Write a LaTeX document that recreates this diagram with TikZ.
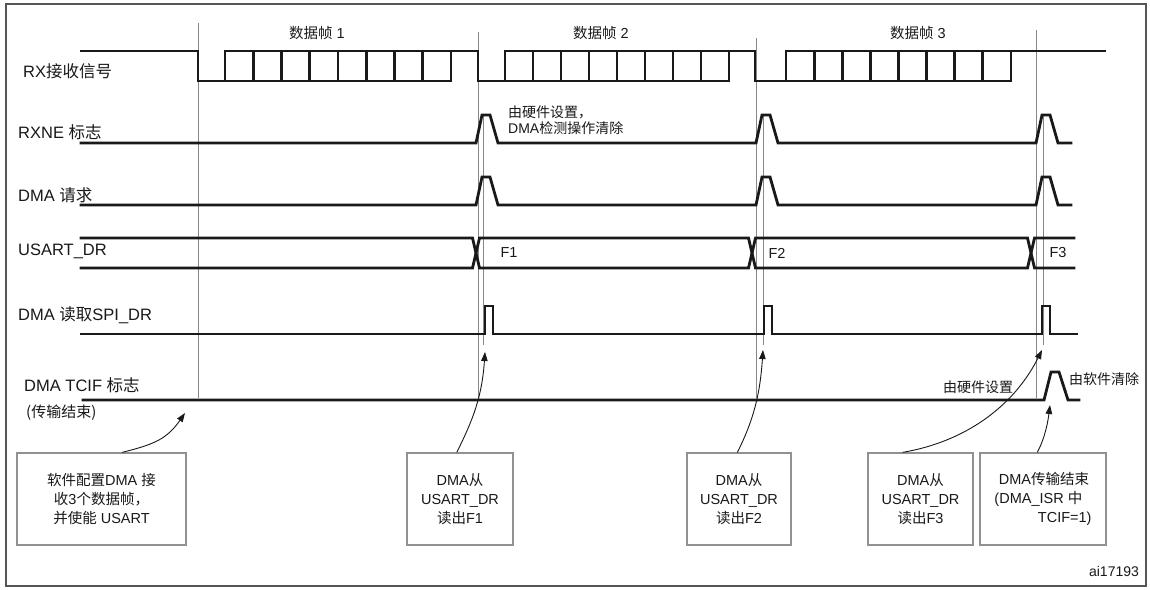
\documentclass[tikz,border=0pt]{standalone}
\usepackage{fontspec}
\setmainfont{Liberation Sans}
\newfontfamily\cjk{Noto Sans CJK SC}
\usetikzlibrary{arrows.meta}
\definecolor{ink}{RGB}{25,25,25}
\definecolor{guide}{RGB}{135,135,135}
\definecolor{boxline}{RGB}{145,145,145}
\definecolor{rim}{RGB}{85,85,85}

\begin{document}
\begin{tikzpicture}[x=1pt,y=-1pt,
  sig/.style={ink,line width=2.8pt,line cap=rect},
  guideline/.style={guide,line width=.8pt},
  lbl/.style={anchor=west,inner sep=0pt,font=\fontsize{16.5}{19}\selectfont,text=ink},
  note/.style={inner sep=0pt,font=\fontsize{14}{16}\selectfont,text=ink},
  callout/.style={draw=boxline,line width=1.3pt,minimum height=92pt,inner sep=2pt,align=center,font=\fontsize{14.5}{19}\selectfont,text=ink},
  pointer/.style={ink,line width=.9pt,-{Triangle[length=9pt,width=6.5pt]}}]
\useasboundingbox (0,0) rectangle (1150,589);
\fill[white] (0,0) rectangle (1150,589);
\draw[rim,line width=2pt] (6,4) rectangle (1146,586);
\draw[guideline] (198,23) -- (198,398); \draw[guideline] (478,32) -- (478,398);
\draw[guideline] (756,38) -- (756,398); \draw[guideline] (1036,30) -- (1036,398);
\foreach \gx in {483,763,1043} \draw[guideline] (\gx,115) -- (\gx,345);
\node[note,font=\fontsize{14.5}{16}\selectfont] (fr1) at (317,33) {{\cjk 数据帧} 1};
\node[note,font=\fontsize{14.5}{16}\selectfont] (fr2) at (601,33) {{\cjk 数据帧} 2};
\node[note,font=\fontsize{14.5}{16}\selectfont] (fr3) at (918,33) {{\cjk 数据帧} 3};
\node[lbl] (rx) at (23,71) {RX{\cjk 接收信号}};
\node[lbl] (rxne) at (18,132) {RXNE {\cjk 标志}};
\node[lbl] (req) at (18,195) {DMA {\cjk 请求}};
\node[lbl] (dr) at (18,251) {USART\_DR};
\node[lbl] (rd) at (18,315) {DMA {\cjk 读取}SPI\_DR};
\node[lbl] (tc) at (24,385) {DMA TCIF {\cjk 标志}};
\node[lbl,font=\fontsize{15}{18}\selectfont] (tcsub) at (26,413) {{\cjk (传输结束)}};
\draw[sig] (81,51) -- (198,51) -- (198,81) -- (451,81);
\draw[sig] (225,51) -- (478,51) -- (478,81) -- (729,81);
\draw[sig] (505,51) -- (755,51) -- (755,81) -- (1011,81);
\draw[sig] (786,51) -- (1105,51);
\foreach \a/\b in {225/451,505/729,786/1011}
  \foreach \i in {0,...,8} \draw[sig] ({\a+\i*(\b-\a)/8},51) -- ++(0,30);
\foreach \y in {143,205}
  \draw[sig] (81,\y) -- (476,\y) -- ++(6,-28) -- ++(8,0) -- ++(8,28) -- (756,\y) -- ++(6,-28) -- ++(8,0) -- ++(8,28)
    -- (1036,\y) -- ++(6,-28) -- ++(8,0) -- ++(8,28) -- (1071,\y);
\draw[sig] (81,238) -- (472.5,238) -- (479.5,268) -- (748.5,268) -- (755.5,238) -- (1027.5,238) -- (1034.5,268) -- (1074,268);
\draw[sig] (81,268) -- (472.5,268) -- (479.5,238) -- (748.5,238) -- (755.5,268) -- (1027.5,268) -- (1034.5,238) -- (1074,238);
\draw[sig] (81,334) -- (485,334) -- ++(0,-28) -- ++(8,0) -- ++(0,28) -- (764,334) -- ++(0,-28) -- ++(8,0) -- ++(0,28)
  -- (1042,334) -- ++(0,-28) -- ++(8,0) -- ++(0,28) -- (1077,334);
\draw[sig] (83,400) -- (1044,400) -- ++(7,-28) -- ++(8,0) -- ++(9,28) -- (1079,400);
\node[note,font=\fontsize{14.5}{16}\selectfont] (f1) at (509,253) {F1};
\node[note,font=\fontsize{14.5}{16}\selectfont] (f2) at (777,253) {F2};
\node[note,font=\fontsize{14.5}{16}\selectfont] (f3) at (1058,253) {F3};
\node[note,anchor=west,align=left] (hwclr) at (508,120) {{\cjk 由硬件设置，}\\DMA{\cjk 检测操作清除}};
\node[note] (hwset) at (978,387) {{\cjk 由硬件设置}};
\node[note] (swclr) at (1104,379) {{\cjk 由软件清除}};
\node[note,font=\fontsize{14}{16}\selectfont] (fig) at (1114,571) {ai17193};
\node[callout,minimum width=169pt] (cfg) at (101.5,499) {{\cjk 软件配置}DMA {\cjk 接}\\{\cjk 收}3{\cjk 个数据帧，}\\{\cjk 并使能} USART};
\node[callout,minimum width=106pt] (rd1) at (460,499) {DMA{\cjk 从}\\USART\_DR\\{\cjk 读出}F1};
\node[callout,minimum width=104pt] (rd2) at (739,499) {DMA{\cjk 从}\\USART\_DR\\{\cjk 读出}F2};
\node[callout,minimum width=105pt] (rd3) at (920.5,499) {DMA{\cjk 从}\\USART\_DR\\{\cjk 读出}F3};
\node[callout,minimum width=126pt,align=left] (done) at (1043,499) {\hspace*{.3em}DMA{\cjk 传输结束}\\(DMA\_ISR {\cjk 中}\\\hspace*{3em}TCIF=1)};
\coordinate (hitcfg) at (185,413); \coordinate (hitf1) at (485,352); \coordinate (hitf2) at (763,350);
\coordinate (hitf3) at (1042,350); \coordinate (hittc) at (1050,405);
\draw[pointer] (cfg.66) .. controls +(32,-8) and +(-18,26) .. (hitcfg);
\draw[pointer] (rd1.94) .. controls +(16,-32) and +(-3,45) .. (hitf1);
\draw[pointer] (rd2.92) .. controls +(16,-32) and +(-3,45) .. (hitf2);
\draw[pointer] (rd3.111) .. controls +(70,-12) and +(-25,50) .. (hitf3);
\draw[pointer] (done.97) .. controls +(8,-15) and +(-2,16) .. (hittc);
\end{tikzpicture}
\end{document}
